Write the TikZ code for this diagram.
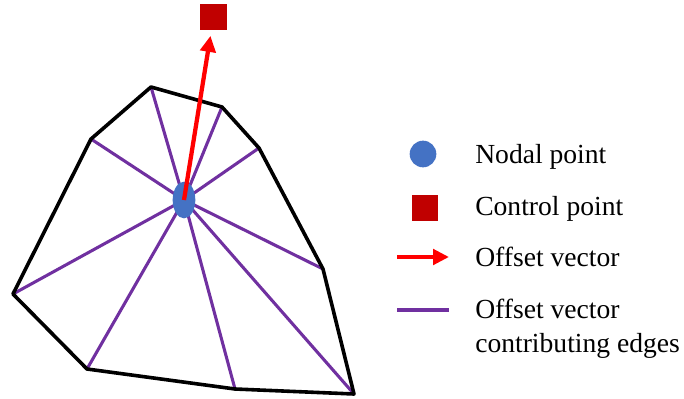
\documentclass[tikz,border=0pt]{standalone}
\usepackage{fontspec}
\setmainfont{Liberation Serif}
\usetikzlibrary{arrows.meta,shapes.geometric,positioning}
\definecolor{nodalblue}{HTML}{4472C4}
\definecolor{ctrlred}{HTML}{C00000}
\definecolor{edgepurple}{HTML}{7030A0}

\begin{document}
\begin{tikzpicture}[x=0.75pt,y=-0.75pt,line join=round,
  offset/.style={draw=red,line width=3.2pt,-{Triangle[length=12pt,width=11.5pt]}},
  spoke/.style={draw=edgepurple,line width=2.3pt},
  lbl/.style={anchor=base west,inner sep=0pt,align=left,font=\fontsize{20.7}{25.5}\selectfont}]
\useasboundingbox (0,0) rectangle (684,399);
% mesh vertices
\coordinate (v1) at (151,87);
\coordinate (v2) at (222,107);
\coordinate (v3) at (259,148);
\coordinate (v4) at (323,269);
\coordinate (v5) at (354,394);
\coordinate (v6) at (235,389);
\coordinate (v7) at (87,369);
\coordinate (v8) at (13,294);
\coordinate (v9) at (91,139);
\coordinate (np) at (184,200);
% edges to the nodal point
\foreach \v in {v1,v2,v3,v4,v5,v6,v7,v8,v9}
  \draw[spoke] (np) -- (\v);
\draw[line width=2.7pt] (v1) -- (v2) -- (v3) -- (v4) -- (v5) -- (v6) -- (v7) -- (v8) -- (v9) -- cycle;
\node[ellipse,fill=nodalblue,inner sep=0pt,minimum width=17pt,minimum height=27.5pt] (nodal) at (np) {};
\node[rectangle,fill=ctrlred,inner sep=0pt,minimum size=20pt] (ctrl) at (213.5,17) {};
\draw[offset,shorten >=4pt] (nodal.center) -- (ctrl);

% legend
\node[circle,fill=nodalblue,inner sep=0pt,minimum size=20pt] (lnodal) at (423,154) {};
\node[rectangle,fill=ctrlred,inner sep=0pt,minimum size=19.5pt] (lctrl) at (425,208) {};
\coordinate (la1) at (397,257);
\coordinate (la2) at (449,257);
\coordinate (le1) at (397,310);
\coordinate (le2) at (449,310);
\draw[offset] (la1) -- (la2);
\draw[spoke] (le1) -- (le2);
\node[lbl] (tnodal) at (475,163) {Nodal point};
\node[lbl] (tctrl) at (475,215) {Control point};
\node[lbl] (toffset) at (475,266) {Offset vector};
\node[lbl] (tedges) at (475,352) {Offset vector\\contributing edges};
\end{tikzpicture}
\end{document}
